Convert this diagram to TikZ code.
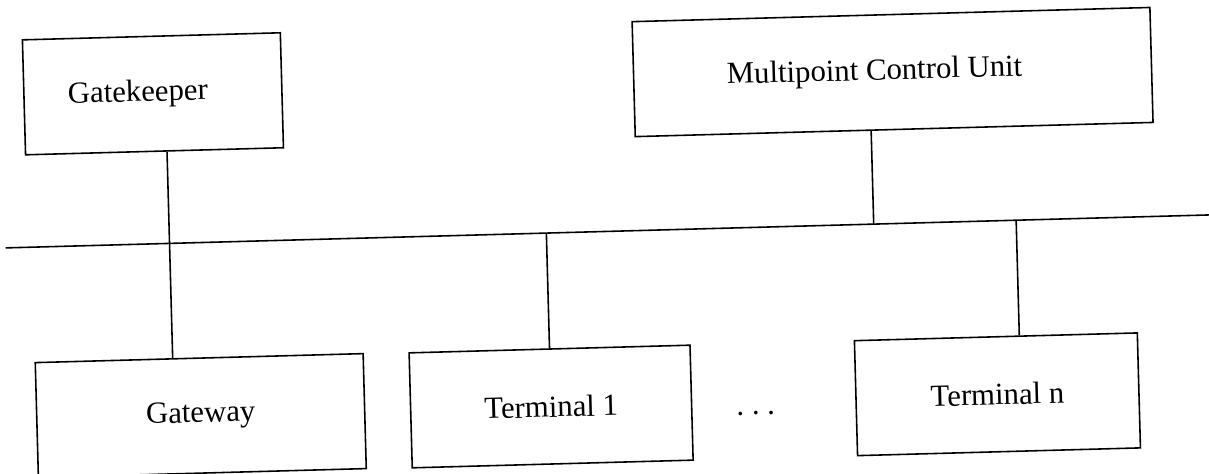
\documentclass[tikz,border=0pt]{standalone}
\usepackage{fontspec}
\setmainfont{Liberation Serif}
\usetikzlibrary{positioning}
\tikzset{
  unitbox/.style={draw, line width=0.9pt,
    minimum height=2.3cm, inner sep=0pt,
    align=center, font=\fontsize{17.5}{21}\selectfont},
  busline/.style={line width=0.9pt},
  link/.style={line width=0.9pt},
}

\begin{document}
\begin{tikzpicture}
  \useasboundingbox (0,0) rectangle (24.18,9.48);
  \begin{scope}[rotate around={1.57:(12.09,4.74)}, transform shape]
  % Top row: gatekeeper and MCU
  \node[unitbox, minimum width=5.16cm] (gk) at (3.14,7.85)
    {\hspace*{-0.6cm}Gatekeeper};
  \node[unitbox, minimum width=10.36cm] (mcu) at (17.94,7.88)
    {\hspace*{-0.72cm}Multipoint Control Unit};

  % Bottom row: gateway and terminals
  \node[unitbox, minimum width=6.56cm] (gw) at (3.92,1.39) {Gateway};
  \node[unitbox, minimum width=5.62cm] (t1) at (10.93,1.38) {Terminal 1};
  \node[unitbox, minimum width=5.66cm] (tn) at (19.86,1.38) {Terminal n};
  \node[font=\fontsize{17.5}{21}\selectfont, inner sep=0pt] (dots)
    at (15.02,1.13) {.~.~.};

  % Shared bus
  \coordinate (busL) at (0.11,4.85);
  \coordinate (busR) at (24.3,4.85);
  \coordinate (tapMcu) at (17.48,4.85);
  \coordinate (tapT1) at (10.93,4.85);
  \coordinate (tapTn) at (20.33,4.85);
  \draw[busline] (busL) -- (busR);

  \draw[link] ([xshift=0.25cm]gk.south) -- ([xshift=-0.53cm]gw.north);
  \draw[link] ([xshift=-0.46cm]mcu.south) -- (tapMcu);
  \draw[link] (t1.north) -- (tapT1);
  \draw[link] ([xshift=0.47cm]tn.north) -- (tapTn);
  \end{scope}
\end{tikzpicture}
\end{document}
